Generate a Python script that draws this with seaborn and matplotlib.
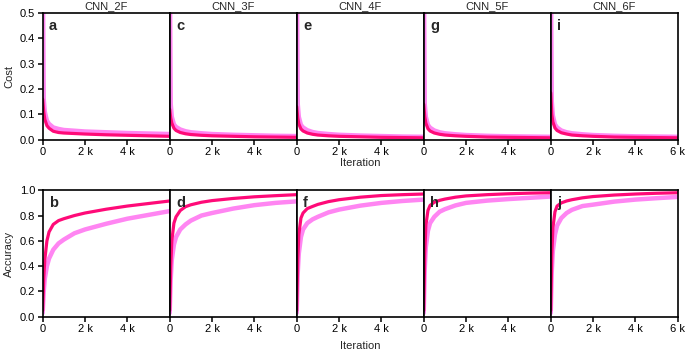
import numpy as np
import pandas as pd
import matplotlib
matplotlib.use("Agg")
import matplotlib.pyplot as plt
import seaborn as sns

# iteration points
iters = [0, 50, 100, 200, 300, 500, 750, 1000, 1500, 2000, 3000, 4000, 5000, 6000]

models = ["CNN_2F", "CNN_3F", "CNN_4F", "CNN_5F", "CNN_6F"]
cost_letters = ["a", "c", "e", "g", "i"]
acc_letters = ["b", "d", "f", "h", "j"]

# cost, dark pink series
cost_dark_2F = [0.16, 0.11, 0.08, 0.055, 0.045, 0.033, 0.028, 0.026, 0.024, 0.022, 0.019, 0.017, 0.015, 0.013]
cost_dark_3F = [0.12, 0.085, 0.065, 0.045, 0.036, 0.028, 0.023, 0.020, 0.017, 0.015, 0.013, 0.011, 0.010, 0.009]
cost_dark_4F = [0.13, 0.085, 0.062, 0.042, 0.034, 0.026, 0.021, 0.018, 0.015, 0.013, 0.011, 0.009, 0.008, 0.007]
cost_dark_5F = [0.14, 0.09, 0.065, 0.043, 0.034, 0.026, 0.021, 0.018, 0.015, 0.013, 0.010, 0.009, 0.008, 0.007]
cost_dark_6F = [0.185, 0.10, 0.07, 0.046, 0.036, 0.027, 0.022, 0.018, 0.015, 0.013, 0.010, 0.009, 0.008, 0.007]

# cost, light pink series
cost_light_2F = [0.75, 0.16, 0.11, 0.075, 0.062, 0.048, 0.042, 0.038, 0.035, 0.032, 0.029, 0.026, 0.024, 0.022]
cost_light_3F = [0.75, 0.14, 0.09, 0.060, 0.050, 0.040, 0.033, 0.029, 0.025, 0.022, 0.019, 0.017, 0.015, 0.014]
cost_light_4F = [0.75, 0.14, 0.09, 0.058, 0.048, 0.037, 0.030, 0.026, 0.022, 0.019, 0.016, 0.014, 0.012, 0.011]
cost_light_5F = [0.75, 0.14, 0.09, 0.058, 0.047, 0.036, 0.029, 0.025, 0.021, 0.018, 0.015, 0.013, 0.012, 0.011]
cost_light_6F = [0.75, 0.15, 0.095, 0.060, 0.048, 0.036, 0.029, 0.025, 0.021, 0.018, 0.015, 0.013, 0.012, 0.011]

# accuracy, dark pink series
acc_dark_2F = [0.05, 0.30, 0.45, 0.60, 0.67, 0.73, 0.76, 0.775, 0.80, 0.82, 0.85, 0.875, 0.895, 0.915]
acc_dark_3F = [0.05, 0.40, 0.60, 0.74, 0.79, 0.84, 0.87, 0.885, 0.905, 0.918, 0.935, 0.948, 0.957, 0.965]
acc_dark_4F = [0.05, 0.45, 0.65, 0.78, 0.82, 0.855, 0.872, 0.888, 0.91, 0.925, 0.945, 0.958, 0.965, 0.97]
acc_dark_5F = [0.05, 0.50, 0.72, 0.84, 0.88, 0.905, 0.92, 0.93, 0.945, 0.955, 0.965, 0.972, 0.977, 0.98]
acc_dark_6F = [0.05, 0.48, 0.70, 0.83, 0.875, 0.90, 0.915, 0.925, 0.94, 0.95, 0.962, 0.97, 0.976, 0.98]

# accuracy, light pink series
acc_light_2F = [0.03, 0.20, 0.30, 0.40, 0.46, 0.53, 0.58, 0.61, 0.66, 0.69, 0.735, 0.775, 0.805, 0.835]
acc_light_3F = [0.03, 0.30, 0.45, 0.57, 0.63, 0.69, 0.73, 0.76, 0.80, 0.82, 0.855, 0.882, 0.90, 0.912]
acc_light_4F = [0.03, 0.35, 0.50, 0.63, 0.69, 0.74, 0.77, 0.79, 0.825, 0.847, 0.878, 0.90, 0.915, 0.926]
acc_light_5F = [0.03, 0.38, 0.55, 0.68, 0.74, 0.79, 0.83, 0.85, 0.88, 0.90, 0.918, 0.93, 0.94, 0.95]
acc_light_6F = [0.03, 0.36, 0.52, 0.65, 0.72, 0.78, 0.82, 0.845, 0.875, 0.886, 0.91, 0.926, 0.937, 0.947]

cost_dark = [cost_dark_2F, cost_dark_3F, cost_dark_4F, cost_dark_5F, cost_dark_6F]
cost_light = [cost_light_2F, cost_light_3F, cost_light_4F, cost_light_5F, cost_light_6F]
acc_dark = [acc_dark_2F, acc_dark_3F, acc_dark_4F, acc_dark_5F, acc_dark_6F]
acc_light = [acc_light_2F, acc_light_3F, acc_light_4F, acc_light_5F, acc_light_6F]

DARK = "#FF0A78"
LIGHT = "#FF85F2"

sns.set_style("ticks")
plt.rcParams['font.family'] = ['Liberation Sans', 'DejaVu Sans']
plt.rcParams['font.size'] = 8

fig, axes = plt.subplots(2, 5, figsize=(6.85, 3.52), dpi=100)
fig.subplots_adjust(left=0.0623, right=0.9894, top=0.963, bottom=0.100,
                    wspace=0, hspace=0.40)


def k_label(v, pos):
    return "0" if v == 0 else "%d k" % (v / 1000)


for i in range(5):
    for row in range(2):
        ax = axes[row, i]
        if row == 0:
            light, dark = cost_light[i], cost_dark[i]
        else:
            light, dark = acc_light[i], acc_dark[i]
        sns.lineplot(x=iters, y=light, ax=ax, color=LIGHT, lw=3.2)
        sns.lineplot(x=iters, y=dark, ax=ax, color=DARK, lw=2.3)
        ax.set_xlim(0, 6000)
        if i < 4:
            ax.set_xticks([0, 2000, 4000])
        else:
            ax.set_xticks([0, 2000, 4000, 6000])
        ax.xaxis.set_major_formatter(plt.FuncFormatter(k_label))
        if row == 0:
            ax.set_ylim(0, 0.5)
            ax.set_yticks([0, 0.1, 0.2, 0.3, 0.4, 0.5])
            ax.set_title(models[i], fontsize=8, pad=3)
            letter = cost_letters[i]
        else:
            ax.set_ylim(0, 1.0)
            ax.set_yticks([0, 0.2, 0.4, 0.6, 0.8, 1.0])
            letter = acc_letters[i]
        if i == 0:
            ax.yaxis.set_major_formatter(plt.FormatStrFormatter("%.1f"))
        else:
            ax.tick_params(axis='y', left=False, labelleft=False)
        ax.text(0.05, 0.955, letter, transform=ax.transAxes, fontsize=10.5,
                fontweight='bold', va='top', ha='left')
        for s in ax.spines.values():
            s.set_linewidth(1.2)
            s.set_color("black")
        ax.tick_params(axis='both', direction='out', length=3.5, width=1.1,
                       labelsize=8, pad=2, colors='black')
        ax.set_xlabel("")
        ax.set_ylabel("")

axes[0, 0].set_ylabel("Cost", fontsize=8, labelpad=4)
axes[1, 0].set_ylabel("Accuracy", fontsize=8, labelpad=4)
fig.text(0.5257, 0.537, "Iteration", ha='center', va='center', fontsize=8)
fig.text(0.5257, 0.017, "Iteration", ha='center', va='center', fontsize=8)

fig.savefig("out.png", dpi=100)
